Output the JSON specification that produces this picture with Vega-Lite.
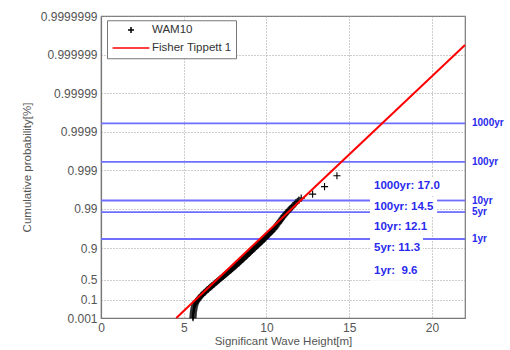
{
  "$schema": "https://vega.github.io/schema/vega-lite/v6.json",
  "width": 364,
  "height": 302,
  "autosize": {"type": "none"},
  "padding": {"left": 101, "top": 16, "right": 45, "bottom": 32},
  "background": "white",
  "config": {
    "font": "Liberation Sans",
    "view": {"stroke": "#777777", "strokeWidth": 1.2},
    "axis": {
      "domainColor": "#777777",
      "domainWidth": 1.2,
      "ticks": false,
      "grid": true,
      "gridColor": "#9a9a9a",
      "gridDash": [1, 2],
      "gridWidth": 1,
      "labelColor": "#555555",
      "labelFont": "Liberation Sans",
      "labelFontSize": 12,
      "labelPadding": 4,
      "labelOverlap": false,
      "titleColor": "#555555",
      "titleFont": "Liberation Sans",
      "titleFontSize": 11.5,
      "titleFontWeight": "normal"
    }
  },
  "datasets": {
    "wam10": [
      {"hs": 5.56, "gumbel": -1.92}, {"hs": 5.56, "gumbel": -1.86}, {"hs": 5.57, "gumbel": -1.80},
      {"hs": 5.57, "gumbel": -1.74}, {"hs": 5.58, "gumbel": -1.68}, {"hs": 5.58, "gumbel": -1.62},
      {"hs": 5.59, "gumbel": -1.56}, {"hs": 5.60, "gumbel": -1.50}, {"hs": 5.61, "gumbel": -1.44},
      {"hs": 5.62, "gumbel": -1.38}, {"hs": 5.63, "gumbel": -1.32}, {"hs": 5.65, "gumbel": -1.26},
      {"hs": 5.66, "gumbel": -1.20}, {"hs": 5.68, "gumbel": -1.14}, {"hs": 5.70, "gumbel": -1.08},
      {"hs": 5.72, "gumbel": -1.03}, {"hs": 5.75, "gumbel": -0.98}, {"hs": 5.78, "gumbel": -0.93},
      {"hs": 5.81, "gumbel": -0.90}, {"hs": 5.85, "gumbel": -0.86}, {"hs": 5.90, "gumbel": -0.79},
      {"hs": 5.95, "gumbel": -0.72}, {"hs": 6.00, "gumbel": -0.66}, {"hs": 6.05, "gumbel": -0.60},
      {"hs": 6.10, "gumbel": -0.55}, {"hs": 6.15, "gumbel": -0.51}, {"hs": 6.20, "gumbel": -0.46},
      {"hs": 6.25, "gumbel": -0.41}, {"hs": 6.30, "gumbel": -0.37}, {"hs": 6.35, "gumbel": -0.32},
      {"hs": 6.40, "gumbel": -0.27}, {"hs": 6.45, "gumbel": -0.23}, {"hs": 6.50, "gumbel": -0.19},
      {"hs": 6.55, "gumbel": -0.14}, {"hs": 6.60, "gumbel": -0.10}, {"hs": 6.65, "gumbel": -0.06},
      {"hs": 6.70, "gumbel": -0.01}, {"hs": 6.75, "gumbel": 0.02}, {"hs": 6.80, "gumbel": 0.07},
      {"hs": 6.85, "gumbel": 0.11}, {"hs": 6.90, "gumbel": 0.16}, {"hs": 6.95, "gumbel": 0.19},
      {"hs": 7.00, "gumbel": 0.24}, {"hs": 7.05, "gumbel": 0.28}, {"hs": 7.10, "gumbel": 0.32},
      {"hs": 7.15, "gumbel": 0.36}, {"hs": 7.20, "gumbel": 0.41}, {"hs": 7.25, "gumbel": 0.44},
      {"hs": 7.30, "gumbel": 0.49}, {"hs": 7.35, "gumbel": 0.53}, {"hs": 7.40, "gumbel": 0.57},
      {"hs": 7.45, "gumbel": 0.61}, {"hs": 7.50, "gumbel": 0.66}, {"hs": 7.55, "gumbel": 0.69},
      {"hs": 7.60, "gumbel": 0.74}, {"hs": 7.65, "gumbel": 0.78}, {"hs": 7.70, "gumbel": 0.82},
      {"hs": 7.75, "gumbel": 0.86}, {"hs": 7.80, "gumbel": 0.91}, {"hs": 7.85, "gumbel": 0.94},
      {"hs": 7.90, "gumbel": 0.99}, {"hs": 7.95, "gumbel": 1.03}, {"hs": 8.00, "gumbel": 1.07},
      {"hs": 8.05, "gumbel": 1.12}, {"hs": 8.10, "gumbel": 1.17}, {"hs": 8.15, "gumbel": 1.20},
      {"hs": 8.20, "gumbel": 1.25}, {"hs": 8.25, "gumbel": 1.30}, {"hs": 8.30, "gumbel": 1.34},
      {"hs": 8.35, "gumbel": 1.38}, {"hs": 8.40, "gumbel": 1.43}, {"hs": 8.45, "gumbel": 1.47},
      {"hs": 8.50, "gumbel": 1.52}, {"hs": 8.55, "gumbel": 1.56}, {"hs": 8.60, "gumbel": 1.60},
      {"hs": 8.65, "gumbel": 1.65}, {"hs": 8.70, "gumbel": 1.70}, {"hs": 8.75, "gumbel": 1.74},
      {"hs": 8.80, "gumbel": 1.79}, {"hs": 8.85, "gumbel": 1.84}, {"hs": 8.90, "gumbel": 1.89},
      {"hs": 8.95, "gumbel": 1.93}, {"hs": 9.00, "gumbel": 1.98}, {"hs": 9.05, "gumbel": 2.03},
      {"hs": 9.10, "gumbel": 2.07}, {"hs": 9.15, "gumbel": 2.12}, {"hs": 9.20, "gumbel": 2.17},
      {"hs": 9.25, "gumbel": 2.21}, {"hs": 9.30, "gumbel": 2.26}, {"hs": 9.35, "gumbel": 2.31},
      {"hs": 9.40, "gumbel": 2.35}, {"hs": 9.45, "gumbel": 2.40}, {"hs": 9.50, "gumbel": 2.45},
      {"hs": 9.55, "gumbel": 2.49}, {"hs": 9.60, "gumbel": 2.54}, {"hs": 9.65, "gumbel": 2.59},
      {"hs": 9.70, "gumbel": 2.63}, {"hs": 9.75, "gumbel": 2.68}, {"hs": 9.80, "gumbel": 2.73},
      {"hs": 9.85, "gumbel": 2.77}, {"hs": 9.90, "gumbel": 2.82}, {"hs": 9.95, "gumbel": 2.88},
      {"hs": 10.00, "gumbel": 2.92}, {"hs": 10.05, "gumbel": 2.98}, {"hs": 10.10, "gumbel": 3.03},
      {"hs": 10.15, "gumbel": 3.07}, {"hs": 10.20, "gumbel": 3.12}, {"hs": 10.25, "gumbel": 3.18},
      {"hs": 10.30, "gumbel": 3.22}, {"hs": 10.35, "gumbel": 3.27}, {"hs": 10.40, "gumbel": 3.33},
      {"hs": 10.45, "gumbel": 3.38}, {"hs": 10.50, "gumbel": 3.44}, {"hs": 10.55, "gumbel": 3.51},
      {"hs": 10.60, "gumbel": 3.57}, {"hs": 10.65, "gumbel": 3.64}, {"hs": 10.70, "gumbel": 3.71},
      {"hs": 10.75, "gumbel": 3.77}, {"hs": 10.80, "gumbel": 3.84}, {"hs": 10.85, "gumbel": 3.91},
      {"hs": 10.90, "gumbel": 3.98}, {"hs": 10.95, "gumbel": 4.04}, {"hs": 11.00, "gumbel": 4.10},
      {"hs": 11.05, "gumbel": 4.17}, {"hs": 11.10, "gumbel": 4.22}, {"hs": 11.15, "gumbel": 4.28},
      {"hs": 11.20, "gumbel": 4.34}, {"hs": 11.25, "gumbel": 4.39}, {"hs": 11.30, "gumbel": 4.45},
      {"hs": 11.35, "gumbel": 4.51}, {"hs": 11.40, "gumbel": 4.56}, {"hs": 11.48, "gumbel": 4.64},
      {"hs": 11.55, "gumbel": 4.71}, {"hs": 11.62, "gumbel": 4.79}, {"hs": 11.70, "gumbel": 4.87},
      {"hs": 11.78, "gumbel": 4.95}, {"hs": 11.86, "gumbel": 5.03}, {"hs": 11.96, "gumbel": 5.12},
      {"hs": 12.10, "gumbel": 5.23}, {"hs": 12.79, "gumbel": 5.47}, {"hs": 13.51, "gumbel": 5.92},
      {"hs": 14.26, "gumbel": 6.57}
    ],
    "fit": [
      {"hs": 4.55, "gumbel": -1.9326},
      {"hs": 22.0, "gumbel": 14.38}
    ],
    "levels": [
      {"period": "1yr", "gumbel": 2.79},
      {"period": "5yr", "gumbel": 4.40},
      {"period": "10yr", "gumbel": 5.09},
      {"period": "100yr", "gumbel": 7.395},
      {"period": "1000yr", "gumbel": 9.70}
    ],
    "level_lines": [
      {"piece": "1yr a", "hs": 0, "gumbel": 2.79}, {"piece": "1yr a", "hs": 16.3, "gumbel": 2.79},
      {"piece": "1yr b", "hs": 19.46, "gumbel": 2.79}, {"piece": "1yr b", "hs": 22, "gumbel": 2.79},
      {"piece": "5yr a", "hs": 0, "gumbel": 4.40}, {"piece": "5yr a", "hs": 16.26, "gumbel": 4.40},
      {"piece": "5yr b", "hs": 20.31, "gumbel": 4.40}, {"piece": "5yr b", "hs": 22, "gumbel": 4.40},
      {"piece": "10yr a", "hs": 0, "gumbel": 5.09}, {"piece": "10yr a", "hs": 16.26, "gumbel": 5.09},
      {"piece": "10yr b", "hs": 20.31, "gumbel": 5.09}, {"piece": "10yr b", "hs": 22, "gumbel": 5.09},
      {"piece": "100yr", "hs": 0, "gumbel": 7.395}, {"piece": "100yr", "hs": 22, "gumbel": 7.395},
      {"piece": "1000yr", "hs": 0, "gumbel": 9.70}, {"piece": "1000yr", "hs": 22, "gumbel": 9.70}
    ],
    "estimates": [
      {"text": "1000yr: 17.0", "hs": 16.5, "box_hs_start": 16.26, "box_hs_end": 20.79, "gumbel": 5.975, "box_top": 6.495, "box_bottom": 5.419},
      {"text": "100yr: 14.5", "hs": 16.5, "box_hs_start": 16.26, "box_hs_end": 20.31, "gumbel": 4.684, "box_top": 5.299, "box_bottom": 4.104},
      {"text": "10yr: 12.1", "hs": 16.5, "box_hs_start": 16.26, "box_hs_end": 19.55, "gumbel": 3.489, "box_top": 4.05, "box_bottom": 2.96},
      {"text": "5yr: 11.3", "hs": 16.5, "box_hs_start": 16.26, "box_hs_end": 19.46, "gumbel": 2.233, "box_top": 2.939, "box_bottom": 1.654},
      {"text": "1yr: \u00a09.6", "hs": 16.5, "box_hs_start": 16.26, "box_hs_end": 19.3, "gumbel": 0.895, "box_top": 1.55, "box_bottom": 0.30}
    ]
  },
  "layer": [
    {
      "data": {"name": "level_lines"},
      "mark": {"type": "line", "color": "#6f6fff", "strokeWidth": 1.8},
      "encoding": {
        "x": {"field": "hs", "type": "quantitative", "scale": {"domain": [0, 22], "nice": false, "zero": false},
          "axis": {"title": "Significant Wave Height[m]", "values": [0, 5, 10, 15, 20], "labelFlush": false, "titlePadding": 2}},
        "y": {"field": "gumbel", "type": "quantitative", "scale": {"domain": [-1.932645, 16.118096], "nice": false, "zero": false},
          "axis": {
            "title": "Cumulative probability[%]",
            "titlePadding": 8,
            "labelOverlap": false,
            "tickCount": 30,
            "values": [-1.932645, -0.834032, 0.366513, 2.250367, 4.600149, 6.907255, 9.210290, 11.512920, 13.815510, 16.118096],
            "labelExpr": "datum.value < -1.5 ? '0.001' : datum.value < -0.5 ? '0.1' : datum.value < 1 ? '0.5' : datum.value < 3 ? '0.9' : datum.value < 5 ? '0.99' : datum.value < 8 ? '0.999' : datum.value < 10 ? '0.9999' : datum.value < 12 ? '0.99999' : datum.value < 15 ? '0.999999' : '0.9999999'"
          }
        },
        "detail": {"field": "piece", "type": "nominal"}
      }
    },
    {
      "data": {"name": "estimates"},
      "mark": {"type": "rect", "fill": "#ffffff", "fillOpacity": 1, "opacity": 1, "strokeWidth": 0},
      "encoding": {
        "x": {"field": "box_hs_start", "type": "quantitative", "scale": {"domain": [0, 22], "nice": false, "zero": false}},
        "x2": {"field": "box_hs_end"},
        "y": {"field": "box_top", "type": "quantitative", "scale": {"domain": [-1.932645, 16.118096], "nice": false, "zero": false}},
        "y2": {"field": "box_bottom"}
      }
    },
    {
      "data": {"name": "wam10"},
      "transform": [{"calculate": "'WAM10'", "as": "series"}],
      "mark": {"type": "point", "filled": false, "size": 90, "strokeWidth": 1.1, "opacity": 1},
      "encoding": {
        "x": {"field": "hs", "type": "quantitative", "scale": {"domain": [0, 22], "nice": false, "zero": false}},
        "y": {"field": "gumbel", "type": "quantitative", "scale": {"domain": [-1.932645, 16.118096], "nice": false, "zero": false}},
        "color": {"field": "series", "type": "nominal",
          "scale": {"domain": ["WAM10", "Fisher Tippett 1"], "range": ["#000000", "#ff0000"]},
          "legend": {
            "title": null,
            "orient": "none",
            "legendX": 6,
            "legendY": 4.25,
            "padding": 4,
            "symbolSize": 64,
            "symbolOffset": 14.25,
            "symbolStrokeWidth": 1.5,
            "labelOffset": 15.25,
            "rowPadding": 5,
            "labelFontSize": 11.5,
            "labelColor": "#333333",
            "labelFont": "Liberation Sans",
            "strokeColor": "#777777",
            "fillColor": "white",
            "cornerRadius": 0
          }
        },
        "shape": {"field": "series", "type": "nominal",
          "scale": {"domain": ["WAM10", "Fisher Tippett 1"], "range": ["M-0.75,0H0.75M0,-0.75V0.75", "M-4.6,0H4.6"]},
          "legend": null
        }
      }
    },
    {
      "data": {"name": "fit"},
      "transform": [{"calculate": "'Fisher Tippett 1'", "as": "series"}],
      "mark": {"type": "line", "strokeWidth": 2},
      "encoding": {
        "x": {"field": "hs", "type": "quantitative", "scale": {"domain": [0, 22], "nice": false, "zero": false}},
        "y": {"field": "gumbel", "type": "quantitative", "scale": {"domain": [-1.932645, 16.118096], "nice": false, "zero": false}},
        "color": {"field": "series", "type": "nominal"}
      }
    },
    {
      "data": {"name": "estimates"},
      "mark": {"type": "text", "align": "left", "baseline": "middle", "font": "Liberation Sans", "fontSize": 11.5, "fontWeight": "bold", "color": "#2a2aee"},
      "encoding": {
        "x": {"field": "hs", "type": "quantitative", "scale": {"domain": [0, 22], "nice": false, "zero": false}},
        "y": {"field": "gumbel", "type": "quantitative", "scale": {"domain": [-1.932645, 16.118096], "nice": false, "zero": false}},
        "text": {"field": "text"}
      }
    },
    {
      "data": {"name": "levels"},
      "mark": {"type": "text", "align": "left", "baseline": "middle", "dx": 7, "font": "Liberation Sans", "fontSize": 10, "fontWeight": "bold", "color": "#2a2aee"},
      "encoding": {
        "x": {"datum": 22, "type": "quantitative", "scale": {"domain": [0, 22], "nice": false, "zero": false}},
        "y": {"field": "gumbel", "type": "quantitative", "scale": {"domain": [-1.932645, 16.118096], "nice": false, "zero": false}},
        "text": {"field": "period"}
      }
    }
  ]
}
